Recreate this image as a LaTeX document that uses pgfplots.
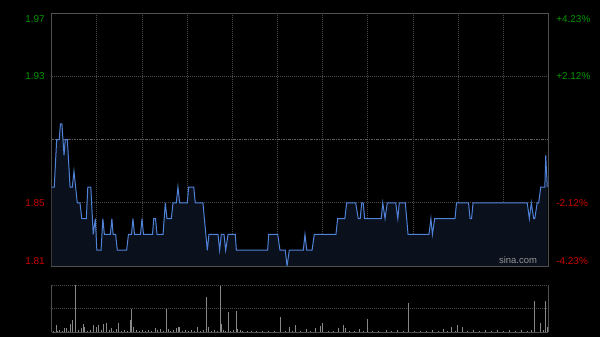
\documentclass[border=0pt]{standalone}
\usepackage{pgfplots}
\usepackage{pgfplotstable}
\pgfplotsset{compat=1.18}
\usepackage{fontspec}
\setmainfont{Liberation Sans}
\definecolor{frame}{RGB}{80,80,80}
\definecolor{gridc}{RGB}{72,72,72}
\definecolor{midc}{RGB}{95,95,95}
\definecolor{up}{RGB}{0,150,0}
\definecolor{down}{RGB}{205,0,0}
\definecolor{linec}{RGB}{80,130,215}
\definecolor{fillc}{RGB}{10,16,28}
\definecolor{volc}{RGB}{135,135,135}
\definecolor{wm}{RGB}{150,150,150}
\pgfplotstableread{
m p
0 1.86
1.7 1.86
3.3 1.89
5 1.89
5.8 1.90
6.8 1.90
7.5 1.89
8.2 1.88
9 1.89
10.4 1.89
12.2 1.86
13.7 1.86
14.8 1.87
17 1.85
18.8 1.85
20 1.84
23 1.84
24 1.86
26 1.86
27.6 1.83
29 1.84
30 1.82
32.8 1.82
34 1.84
35 1.83
39 1.83
40 1.84
40.8 1.83
42.5 1.83
43.6 1.82
49.8 1.82
51 1.83
53 1.83
54 1.84
55 1.83
59 1.83
60 1.84
61 1.83
67 1.83
67.8 1.84
69 1.84
70 1.83
74 1.83
75.5 1.85
76.6 1.84
79.5 1.84
80.6 1.85
82.8 1.85
83.9 1.86
85 1.85
90.1 1.85
91 1.86
94.4 1.86
95.4 1.85
100.5 1.85
103.4 1.82
104.5 1.83
110.5 1.83
111.6 1.82
112.7 1.83
114.5 1.83
115.6 1.82
117.2 1.83
122 1.83
122.7 1.82
143.5 1.82
144.2 1.83
150.2 1.83
151.7 1.82
155.2 1.82
156.4 1.81
157.9 1.82
167.2 1.82
168.3 1.83
169.5 1.82
173 1.82
174.5 1.83
188.9 1.83
190 1.84
194.8 1.84
196 1.85
202 1.85
203.7 1.84
205 1.84
206 1.85
207 1.85
208 1.84
219 1.84
220 1.85
221.5 1.84
223 1.85
228.6 1.85
230 1.84
231 1.85
235 1.85
236.8 1.83
250.7 1.83
252 1.84
253 1.83
254.5 1.84
268 1.84
269 1.85
277 1.85
278 1.84
279 1.84
280 1.85
316 1.85
317.4 1.84
318.7 1.85
320.3 1.84
321 1.84
322.6 1.85
323.6 1.85
325 1.86
327.7 1.86
328.3 1.88
329.3 1.86
}\pricetable
\pgfplotstableread{
m v
0 0.03
1 0.02
3 0.15
4 0.03
5 0.04
7 0.03
8.5 0.08
9.5 0.08
11 0.03
12.7 0.17
13.5 0.26
16 1.00
18 0.04
19.8 0.09
21 0.17
22 0.11
24 0.03
26 0.04
28 0.15
30 0.11
31 0.15
33 0.05
34.3 0.17
36 0.20
38 0.04
39.4 0.09
41 0.03
42.7 0.06
44.2 0.20
46 0.03
48 0.04
50 0.03
52.4 0.25
52.9 0.48
54.1 0.11
56 0.04
58 0.03
60 0.05
62 0.03
64 0.04
66 0.03
69.2 0.09
70.5 0.04
72 0.06
74 0.03
76.3 0.48
77.5 0.06
79 0.03
81 0.04
83 0.08
84 0.11
85 0.11
87 0.03
89 0.04
91 0.03
92.8 0.04
95 0.03
97.1 0.11
99 0.03
101 0.04
102.5 0.38
103 0.75
104.3 0.11
106 0.03
108 0.04
110 0.03
112.4 1.00
112.7 0.18
114 0.04
115.5 0.03
117.2 0.43
117.7 0.06
119 0.03
121 0.04
122.6 0.45
123.5 0.06
125.4 0.04
127 0.03
130 0.02
133 0.03
136 0.02
140 0.03
144 0.02
148 0.03
152 0.31
155 0.03
157.7 0.11
160 0.03
162 0.15
165 0.03
169 0.06
172 0.03
175.2 0.09
178.8 0.13
180 0.20
184 0.03
187 0.02
190.5 0.09
193.8 0.15
195.3 0.08
198 0.03
201 0.03
204.7 0.06
207 0.03
209.8 0.27
213 0.02
217 0.03
222.5 0.04
226 0.02
230 0.04
234 0.02
237 0.61
237.3 0.23
241 0.03
245 0.02
249 0.03
253 0.04
257 0.03
260 0.07
263 0.03
265.7 0.11
268 0.03
269.8 0.15
272.9 0.11
276 0.03
280 0.04
284 0.03
288 0.04
292 0.03
296 0.04
300 0.03
304 0.04
308 0.03
312 0.04
316 0.03
319 0.05
321 0.66
324.7 0.20
327 0.04
328 0.67
329.3 0.10
}\voltable
\begin{document}
\begin{tikzpicture}
\fill[black] (0,0) rectangle (600bp,337bp);
\useasboundingbox (0,0) rectangle (600bp,337bp);
\begin{axis}[
  at={(51.7bp,71bp)}, anchor=south west, scale only axis,
  width=496.6bp, height=252.7bp,
  xmin=0, xmax=330, ymin=1.81, ymax=1.97,
  axis line style={frame, line width=0.8bp},
  xtick={30,60,...,300}, ytick={1.85,1.93},
  xticklabels={}, yticklabels={},
  major tick length=0pt,
  grid=major,
  major grid style={gridc, line width=0.7bp, dash pattern=on 1bp off 1bp},
  extra y ticks={1.89}, extra y tick labels={},
  extra y tick style={grid=major, major grid style={midc, line width=0.8bp, dash pattern=on 2.5bp off 1bp on 1bp off 1bp}},
  clip mode=individual,
]
\addplot[draw=none, fill=fillc] table[x=m, y=p] {\pricetable} \closedcycle;
\addplot[linec, line width=1bp, mark=none] table[x=m, y=p] {\pricetable};
\node[anchor=east, text=up, font=\fontsize{10}{12}\selectfont, xshift=-3.5bp, yshift=-5.7bp] at (rel axis cs:0,1) {1.97};
\node[anchor=east, text=up, font=\fontsize{10}{12}\selectfont, xshift=-3.5bp] at (axis cs:0,1.93) {1.93};
\node[anchor=east, text=down, font=\fontsize{10}{12}\selectfont, xshift=-3.5bp] at (axis cs:0,1.85) {1.85};
\node[anchor=east, text=down, font=\fontsize{10}{12}\selectfont, xshift=-3.5bp, yshift=5bp] at (rel axis cs:0,0) {1.81};
\node[anchor=west, text=up, font=\fontsize{10}{12}\selectfont, xshift=4.5bp, yshift=-5.7bp] at (rel axis cs:1,1) {+4.23\%};
\node[anchor=west, text=up, font=\fontsize{10}{12}\selectfont, xshift=4.5bp] at (axis cs:330,1.93) {+2.12\%};
\node[anchor=west, text=down, font=\fontsize{10}{12}\selectfont, xshift=4.5bp] at (axis cs:330,1.85) {-2.12\%};
\node[anchor=west, text=down, font=\fontsize{10}{12}\selectfont, xshift=4.5bp, yshift=5bp] at (rel axis cs:1,0) {-4.23\%};
\node[text=wm, font=\fontsize{9.5}{11}\selectfont] at (rel axis cs:0.939,0.024) {sina.com};
\end{axis}
\begin{axis}[
  at={(51.7bp,5bp)}, anchor=south west, scale only axis,
  width=496.6bp, height=47bp,
  xmin=0, xmax=330, ymin=0, ymax=1,
  axis line style={draw=none},
  xtick=\empty, ytick={0.5}, yticklabels={},
  major tick length=0pt,
  ymajorgrids=true,
  major grid style={gridc, line width=0.7bp, dash pattern=on 1bp off 1bp},
  clip=false,
]
\addplot[ycomb, volc, line width=0.7bp, mark=none] table[x=m, y=v] {\voltable};
\draw[frame, line width=0.8bp] (rel axis cs:0,0) -- (rel axis cs:0,1);
\draw[frame, line width=0.8bp] (rel axis cs:1,0) -- (rel axis cs:1,1);
\draw[frame, line width=0.8bp] (rel axis cs:0,0) -- (rel axis cs:1,0);
\draw[gridc, line width=0.8bp, dash pattern=on 1bp off 1bp] (rel axis cs:0,1) -- (rel axis cs:1,1);
\end{axis}
\end{tikzpicture}
\end{document}
